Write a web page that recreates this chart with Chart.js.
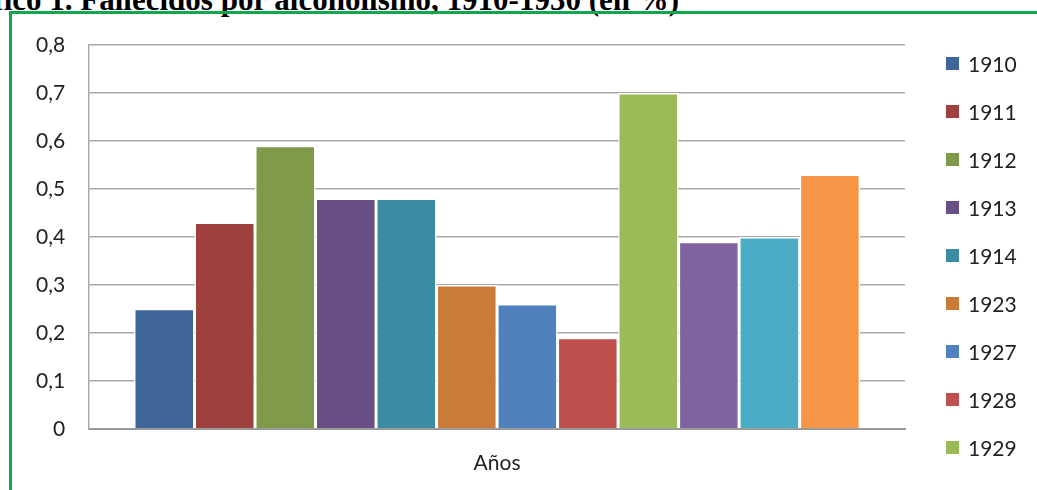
<!DOCTYPE html>
<html>
<head>
<meta charset="utf-8">
<script src="https://cdn.jsdelivr.net/npm/chart.js@4.4.0/dist/chart.umd.min.js"></script>
<style>
  html, body { margin: 0; padding: 0; background: #fff; overflow: hidden; }
  #title {
    position: absolute; left: -60px; top: -18px; white-space: nowrap; line-height: 31px;
    font: bold 31px "Liberation Serif", serif; color: #000;
  }
  #frame {
    position: absolute; left: 9px; top: 11px; width: 1040px; height: 490px;
    border-left: 3px solid #0fa84f; border-top: 3px solid #0fa84f;
  }
  #wrap { position: absolute; left: 0; top: 0; width: 1037px; height: 490px; }
  #legend { position: absolute; left: 946px; top: 39px; font: 21px Lato, sans-serif; color: #222; }
  #legend div { height: 48.1px; display: flex; align-items: center; }
  #legend span.box { display: inline-block; width: 13px; height: 13px; margin-right: 9px; }
</style>
</head>
<body>
<div id="title">Gráfico 1. Fallecidos por alcoholismo, 1910-1930 (en %)</div>
<div id="frame"></div>
<div id="wrap"><canvas id="chart"></canvas></div>
<div id="legend"></div>
<script>
// Data
const categories = ['Años'];
// the last three legend entries are cut off in the source picture
const years = ['1910', '1911', '1912', '1913', '1914', '1923', '1927', '1928', '1929', '1930', '1931', '1932'];
const values = [0.25, 0.43, 0.59, 0.48, 0.48, 0.30, 0.26, 0.19, 0.70, 0.39, 0.40, 0.53];
const colors = ['#3e6699', '#9e403e', '#7f9a48', '#684f86', '#3b8ca3', '#cb7b38', '#4f81bd', '#c0504d', '#9bbb59', '#8064a2', '#4bacc6', '#f79646'];
const yTicks = [0, 0.1, 0.2, 0.3, 0.4, 0.5, 0.6, 0.7, 0.8];
const shownInLegend = 9;

const ctx = document.getElementById('chart').getContext('2d');
const chart = new Chart(ctx, {
    type: 'bar',
    data: {
        labels: categories,
        datasets: years.map((y, i) => ({
            label: y,
            data: [values[i]],
            backgroundColor: colors[i],
            borderColor: '#ffffff',
            borderWidth: 1.5,
            categoryPercentage: 0.89,
            barPercentage: 1
        }))
    },
    options: {
        responsive: true,
        maintainAspectRatio: false,
        animation: false,
        layout: { padding: { left: 12, top: 45, right: 132, bottom: 0 } },
        scales: {
            x: {
                grid: { display: false },
                border: { color: '#999', width: 2 },
                ticks: { color: '#222', font: { family: 'Lato', size: 21 }, padding: 14 }
            },
            y: {
                min: 0,
                max: 0.8,
                afterBuildTicks: axis => { axis.ticks = yTicks.map(v => ({ value: v })); },
                grid: { color: '#aaa', lineWidth: 1.5, drawTicks: false },
                border: { color: '#aaa', width: 1.5 },
                ticks: {
                    color: '#222',
                    font: { family: 'Lato', size: 21 },
                    padding: 24,
                    callback: v => String(v).replace('.', ',')
                }
            }
        },
        plugins: {
            legend: { display: false },
            tooltip: { enabled: false }
        }
    }
});

// legend drawn by hand, only the entries visible in the picture
const legend = document.getElementById('legend');
chart.data.datasets.slice(0, shownInLegend).forEach(ds => {
    const row = document.createElement('div');
    row.innerHTML = '<span class="box" style="background:' + ds.backgroundColor + '"></span>' + ds.label;
    legend.appendChild(row);
});
</script>
</body>
</html>
